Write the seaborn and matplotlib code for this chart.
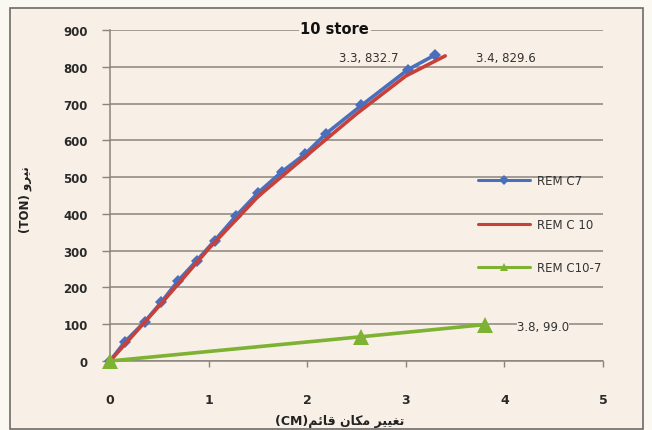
import numpy as np
import pandas as pd
import matplotlib
matplotlib.use("Agg")
import matplotlib.pyplot as plt
import seaborn as sns
from matplotlib.patches import Rectangle

# ---- data ----
c7_x = [0, 0.15, 0.35, 0.52, 0.69, 0.88, 1.06, 1.28, 1.50, 1.74, 1.98, 2.19, 2.55, 3.02, 3.3]
c7_y = [0, 52, 106, 160, 218, 273, 327, 395, 457, 514, 563, 618, 695, 792, 832.7]
c10_x = [0, 0.5, 1.0, 1.5, 2.0, 2.5, 3.0, 3.4]
c10_y = [0, 150, 305, 447, 560, 672, 775, 829.6]
c107_x = [0, 2.55, 3.8]
c107_y = [0, 66, 99.0]
x_ticks = [0, 1, 2, 3, 4, 5]
y_ticks = [0, 100, 200, 300, 400, 500, 600, 700, 800, 900]
title = "10 store"
# Persian labels written in visual (shaped, right-to-left) order
xlabel = "(CM)" + "\ufee2\ufe8b\ufe8e\ufed7" + " " + "\ufee5\ufe8e\ufedc\ufee3" + " " + "\ufeae\ufef4\ufef4\ufed0\ufe97"
ylabel = "(TON) " + "\ufeed\ufeae\ufef4\ufee7"

bg = "#f8f0e6"
sns.set_theme(style="white")
plt.rcParams['font.family'] = ['DejaVu Sans']

fig = plt.figure(figsize=(6.52, 4.31), dpi=100, facecolor="#fbf7f1")
frame = Rectangle((10/652, 1-430/431), 633/652, 421/431, transform=fig.transFigure,
                  facecolor=bg, edgecolor="#6e6a66", linewidth=1.2, zorder=-10)
fig.add_artist(frame)
ax = fig.add_axes([110/652, 1-362/431, 493/652, 331/431])
ax.set_zorder(1)
ax.set_facecolor(bg)

df7 = pd.DataFrame({"x": c7_x, "y": c7_y})
df10 = pd.DataFrame({"x": c10_x, "y": c10_y})
df107 = pd.DataFrame({"x": c107_x, "y": c107_y})

sns.lineplot(data=df7, x="x", y="y", ax=ax, sort=False, estimator=None, color="#4a70bd",
             linewidth=2.6, marker="D", markersize=6, markeredgewidth=0, label="REM C7",
             zorder=3, clip_on=False)
sns.lineplot(data=df10, x="x", y="y", ax=ax, sort=False, estimator=None, color="#c8403a",
             linewidth=2.6, label="REM C 10", zorder=4, clip_on=False)
sns.lineplot(data=df107, x="x", y="y", ax=ax, sort=False, estimator=None, color="#7db233",
             linewidth=2.6, marker="^", markersize=12, markeredgewidth=0, label="REM C10-7",
             zorder=5, clip_on=False)

ax.set_xlim(0, 5)
ax.set_ylim(0, 900)
ax.set_xticks(x_ticks)
ax.set_yticks(y_ticks)
ax.set_xticklabels([str(v) for v in x_ticks], fontsize=9, fontweight="bold", color="#2a2a2a")
ax.set_yticklabels([str(v) for v in y_ticks], fontsize=8.5, fontweight="bold", color="#2a2a2a")
ax.tick_params(axis="y", length=6, width=1, color="#8a847c", pad=10, direction="out", left=True)
ax.tick_params(axis="x", length=4, width=1, color="#8a847c", pad=19, direction="out", bottom=True)
ax.grid(axis="y", color="#8a847c", linewidth=1.1)
ax.grid(axis="x", visible=False)
for s in ["top", "right"]:
    ax.spines[s].set_visible(False)
ax.spines["left"].set_color("#8a847c")
ax.spines["bottom"].set_color("#8a847c")
ax.spines["left"].set_linewidth(1.1)
ax.spines["bottom"].set_linewidth(1.1)
ax.set_axisbelow(True)

ax.set_xlabel(xlabel, fontsize=9, fontweight="bold", color="#222222", labelpad=0)
ax.set_ylabel(ylabel, fontsize=8.5, fontweight="bold", color="#222222", labelpad=18)
ax.xaxis.set_label_coords(0.465, -0.16)
ax.yaxis.set_label_coords(-0.158, 0.49)

ax.text(2.28, 903, title, fontsize=10.5, fontweight="bold", ha="center", va="center", color="#111111",
        bbox=dict(facecolor=bg, edgecolor="none", pad=1), zorder=6)
ax.text(2.62, 824, "3.3, 832.7", fontsize=8.5, ha="center", va="center", color="#333333", zorder=6)
ax.text(4.01, 824, "3.4, 829.6", fontsize=8.5, ha="center", va="center", color="#333333", zorder=6)
ax.text(4.39, 94, "3.8, 99.0", fontsize=8.5, ha="center", va="center", color="#333333",
        bbox=dict(facecolor=bg, edgecolor="none", pad=0), zorder=6)

leg = ax.legend(loc="upper left", bbox_to_anchor=(368/493, 1-(175-31)/331), frameon=False,
                fontsize=8.5, handlelength=4.4, handletextpad=0.6, labelspacing=2.6,
                borderaxespad=0, borderpad=0)
for t in leg.get_texts():
    t.set_color("#333333")
handles = leg.legend_handles if hasattr(leg, "legend_handles") else leg.legendHandles
for h in handles:
    h.set_linewidth(2.2)
handles[0].set_markersize(5)
handles[2].set_markersize(6)

fig.savefig("out.png", dpi=100, facecolor=fig.get_facecolor())
